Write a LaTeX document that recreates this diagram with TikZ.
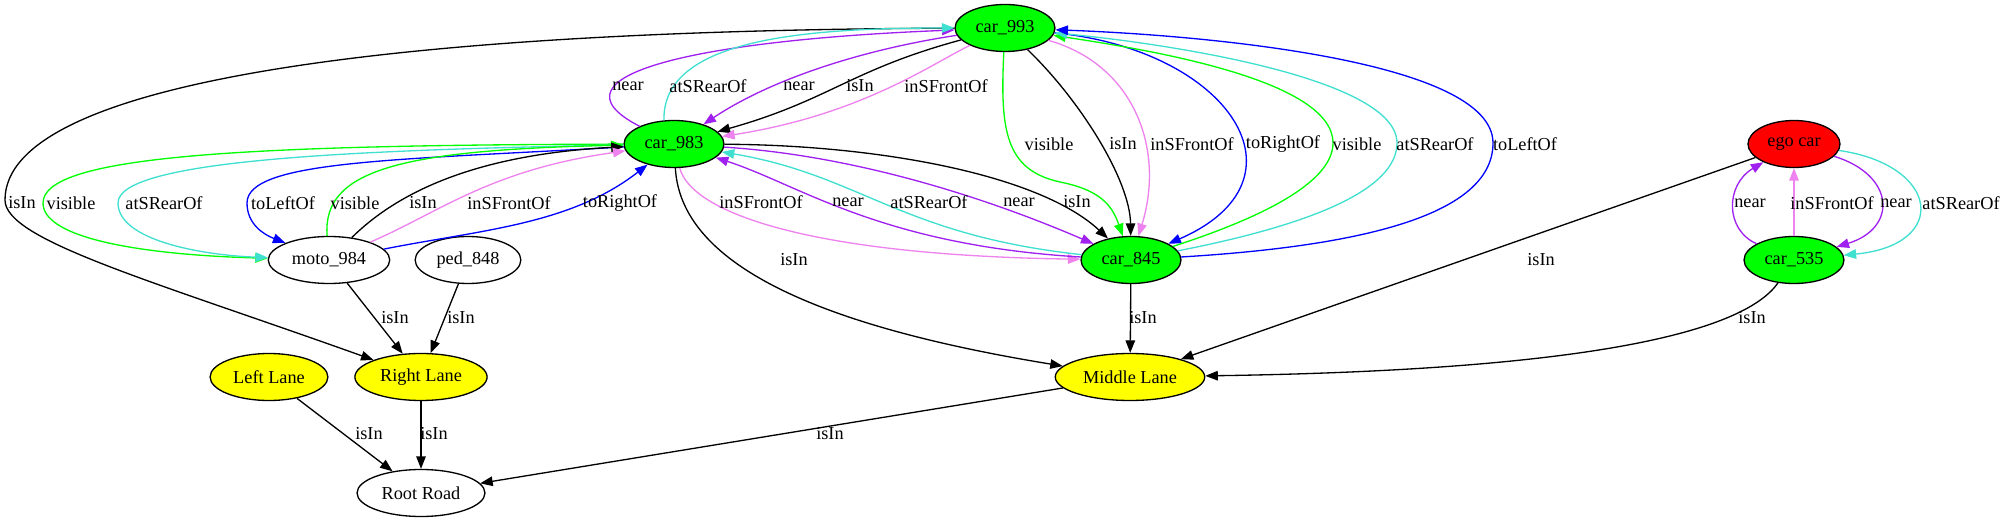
\documentclass[tikz,border=0pt]{standalone}
\usepackage{fontspec}
\setmainfont{Liberation Serif}
\usetikzlibrary{arrows.meta, shapes.geometric}

\definecolor{gvgreen}{HTML}{00FF00}
\definecolor{gvyellow}{HTML}{FFFF00}
\definecolor{gvred}{HTML}{FF0000}
\definecolor{gvturq}{HTML}{40E0D0}
\definecolor{gvpurple}{HTML}{A020F0}
\definecolor{gvviolet}{HTML}{EE82EE}
\definecolor{gvblue}{HTML}{0000FF}

\begin{document}
\begin{tikzpicture}[
  x=0.02cm, y=-0.02cm,
  ent/.style={ellipse, draw=black, line width=0.75pt, inner sep=0.118cm, minimum height=0.94cm,
              font=\fontsize{10.4}{12}\selectfont},
  car/.style={ent, fill=gvgreen},
  lane/.style={ent, fill=gvyellow},
  arr/.style={-{Triangle[length=0.25cm, width=0.19cm]}, line width=0.75pt},
  lbl/.style={font=\fontsize{10.4}{12}\selectfont, inner sep=0pt}
]
\path[use as bounding box, fill=white] (0,0) rectangle (2005,523);
% Objects
\node[car](c993) at (1005,28) {car\_993};
\node[car](c983) at (674,144) {car\_983};
\node[ent](moto) at (329,260) {moto\_984};
\node[ent](ped) at (468,260) {ped\_848};
\node[car](c845) at (1131,260) {car\_845};
\node[ent, fill=gvred](ego) at (1794,144) {ego car};
\node[car](c535) at (1794,260) {car\_535};
% Lanes and road
\node[lane](lanel) at (269,377) {Left Lane};
\node[lane](laner) at (421,377) {Right Lane};
\node[lane](lanem) at (1130,377) {Middle Lane};
\node[ent](road) at (421,493) {Root Road};
% car_993 -> Right Lane
\draw[arr] (c993) .. controls (400,30) and (5,80) .. (5,200) .. controls (5,240) and (150,280) .. (laner);
\node[lbl](l01) at (22,203) {isIn};
% car_993 <-> car_983
\draw[arr, gvpurple] (c983) .. controls (540,75) and (700,40) .. (c993);
\draw[arr, gvturq] (c983.113) .. controls (662,40) and (800,28) .. (c993);
\draw[arr, gvpurple] (c993) .. controls (860,50) and (770,80) .. (c983);
\draw[arr] (c993) .. controls (850,70) and (830,100) .. (c983);
\draw[arr, gvviolet] (c993) .. controls (930,65) and (860,115) .. (c983);
\node[lbl](l02) at (628,86) {near};
\node[lbl](l03) at (708,86) {atSRearOf};
\node[lbl](l04) at (799,86) {near};
\node[lbl](l05) at (860,86) {isIn};
\node[lbl](l06) at (946,86) {inSFrontOf};
% car_993 <-> car_845
\draw[arr, gvgreen] (c993) .. controls (1000,130) and (1005,170) .. (1060,182) .. controls (1100,190) and (1112,205) .. (c845);
\draw[arr] (c993) .. controls (1080,100) and (1130,180) .. (c845);
\draw[arr, gvviolet] (c993) .. controls (1135,65) and (1165,150) .. (c845);
\draw[arr, gvblue] (c993) .. controls (1230,50) and (1315,180) .. (c845);
\draw[arr, gvgreen] (c845) .. controls (1270,215) and (1333,180) .. (1333,143) .. controls (1333,80) and (1150,50) .. (c993);
\draw[arr, gvturq] (c845) .. controls (1310,225) and (1397,190) .. (1397,143) .. controls (1397,80) and (1180,45) .. (c993);
\draw[arr, gvblue] (c845) .. controls (1380,245) and (1493,210) .. (1493,143) .. controls (1493,60) and (1200,35) .. (c993);
\node[lbl](l07) at (1049,144) {visible};
\node[lbl](l08) at (1123,144) {isIn};
\node[lbl](l09) at (1192,144) {inSFrontOf};
\node[lbl](l10) at (1283,144) {toRightOf};
\node[lbl](l11) at (1357,144) {visible};
\node[lbl](l12) at (1435,144) {atSRearOf};
\node[lbl](l13) at (1525,144) {toLeftOf};
% car_983 <-> car_845
\draw[arr, gvviolet] (c983) .. controls (690,210) and (800,255) .. (c845);
\draw[arr, gvpurple] (c845) .. controls (880,245) and (800,185) .. (c983);
\draw[arr, gvturq] (c845) .. controls (900,235) and (860,175) .. (c983);
\draw[arr, gvpurple] (c983) .. controls (850,155) and (980,195) .. (c845);
\draw[arr] (c983) .. controls (880,145) and (1040,175) .. (c845);
\node[lbl](l14) at (761,202) {inSFrontOf};
\node[lbl](l15) at (848,202) {near};
\node[lbl](l16) at (929,202) {atSRearOf};
\node[lbl](l17) at (1019,202) {near};
\node[lbl](l18) at (1077,202) {isIn};
% car_983 -> Middle Lane
\draw[arr] (c983) .. controls (680,250) and (780,320) .. (lanem);
\node[lbl](l19) at (794,260) {isIn};
% car_983 <-> moto_984
\draw[arr, gvgreen] (c983) .. controls (250,145) and (43,155) .. (43,203) .. controls (43,240) and (150,255) .. (moto);
\draw[arr, gvturq] (c983) .. controls (350,150) and (118,160) .. (118,203) .. controls (118,240) and (200,255) .. (moto);
\draw[arr, gvblue] (c983) .. controls (400,160) and (247,160) .. (247,203) .. controls (247,225) and (265,235) .. (moto);
\draw[arr, gvgreen] (moto) .. controls (322,170) and (400,150) .. (c983);
\draw[arr] (moto) .. controls (395,195) and (470,155) .. (c983);
\draw[arr, gvviolet] (moto) .. controls (440,212) and (490,170) .. (c983);
\draw[arr, gvblue] (moto) .. controls (480,230) and (570,225) .. (c983);
\node[lbl](l20) at (71,203) {visible};
\node[lbl](l21) at (164,203) {atSRearOf};
\node[lbl](l22) at (283,203) {toLeftOf};
\node[lbl](l23) at (355,203) {visible};
\node[lbl](l24) at (423,203) {isIn};
\node[lbl](l25) at (509,203) {inSFrontOf};
\node[lbl](l26) at (620,203) {toRightOf};
% ego car <-> car_535
\draw[arr, gvpurple] (c535) .. controls (1725,230) and (1725,185) .. (ego);
\draw[arr, gvviolet] (c535) -- (ego);
\draw[arr, gvpurple] (ego) .. controls (1895,175) and (1898,228) .. (c535);
\draw[arr, gvturq] (ego) .. controls (1940,165) and (1950,245) .. (c535);
\node[lbl](l27) at (1750,203) {near};
\node[lbl](l28) at (1832,203) {inSFrontOf};
\node[lbl](l29) at (1896,203) {near};
\node[lbl](l30) at (1961,203) {atSRearOf};
% isIn to lanes
\draw[arr] (ego) -- (lanem);
\draw[arr] (c845) -- (lanem);
\draw[arr] (c535) .. controls (1745,330) and (1600,370) .. (lanem);
\draw[arr] (moto) -- (laner);
\draw[arr] (ped) -- (laner);
\node[lbl](l31) at (1541,260) {isIn};
\node[lbl](l32) at (1143,318) {isIn};
\node[lbl](l33) at (1752,318) {isIn};
\node[lbl](l34) at (395,318) {isIn};
\node[lbl](l35) at (461,318) {isIn};
% isIn to road
\draw[arr] (lanel) -- (road);
\draw[arr] (laner) -- (road);
\draw[arr] (lanem) -- (road);
\node[lbl](l36) at (369,434) {isIn};
\node[lbl](l37) at (434,434) {isIn};
\node[lbl](l38) at (830,434) {isIn};
\end{tikzpicture}
\end{document}
